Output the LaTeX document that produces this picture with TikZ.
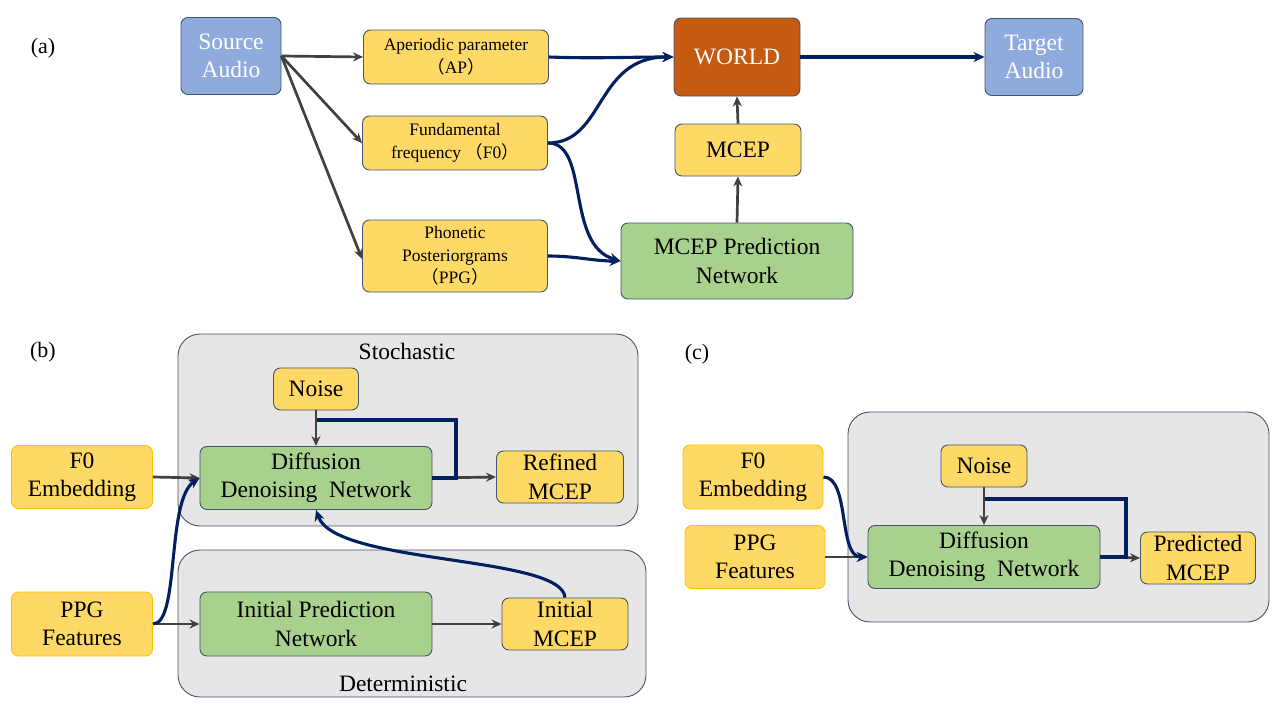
\documentclass[tikz,border=0pt]{standalone}
\usepackage{fontspec}
\setmainfont{Liberation Serif}
\newfontfamily\cjk{Noto Sans CJK SC}
\newcommand{\fwl}{{\cjk （}}
\newcommand{\fwr}{{\cjk ）}}
\usetikzlibrary{arrows.meta}
\definecolor{featfill}{HTML}{FFD966}
\definecolor{featline}{HTML}{FFC000}
\definecolor{netfill}{HTML}{A9D18E}
\definecolor{audiofill}{HTML}{8FAADC}
\definecolor{worldfill}{HTML}{C55A11}
\definecolor{groupfill}{HTML}{E7E6E6}
\definecolor{edgeline}{HTML}{44546A}
\definecolor{navy}{HTML}{002060}
\definecolor{darkgray}{HTML}{404040}

\begin{document}
\begin{tikzpicture}[x=1pt,y=-1pt,>=Stealth]
  \tikzstyle{box}=[draw=edgeline,line width=0.9pt,rounded corners=7pt,align=center,inner sep=0pt,font=\fontsize{23.5}{28.5}\selectfont]
  \tikzstyle{feat}=[box,fill=featfill,minimum width=185pt,minimum height=54pt,font=\fontsize{17.5}{22.5}\selectfont]
  \tikzstyle{inp}=[box,draw=featline,fill=featfill,minimum width=141pt,minimum height=63pt]
  \tikzstyle{outp}=[box,fill=featfill,minimum height=52pt]
  \tikzstyle{net}=[box,fill=netfill,minimum width=232pt,minimum height=63pt]
  \tikzstyle{audio}=[box,draw=edgeline,fill=audiofill,text=white,minimum width=100pt,minimum height=77pt]
  \tikzstyle{group}=[draw=edgeline,line width=0.9pt,fill=groupfill,rounded corners=22pt]
  \tikzstyle{garrow}=[->,darkgray,line width=2.7pt,arrows={-Stealth[length=10pt,width=9pt]}]
  \tikzstyle{narrow}=[->,navy,line width=3.1pt,arrows={-Stealth[length=11pt,width=10pt]}]
  \tikzstyle{nline}=[navy,line width=3.1pt]
  \tikzstyle{tag}=[font=\fontsize{22}{26}\selectfont]
  \useasboundingbox (0,0) rectangle (1280,720);

  % (a) conversion pipeline
  \node[tag] (taga) at (43,48) {(a)};
  \node[audio] (src) at (231,56) {Source\\Audio};
  \node[feat] (ap) at (456,57) {Aperiodic parameter\\\fwl AP\fwr};
  \node[feat] (f0) at (455,143) {Fundamental\\frequency \fwl F0\fwr};
  \node[feat,minimum height=72pt] (ppg) at (455,256) {Phonetic\\Posteriorgrams\\\fwl PPG\fwr};
  \node[box,fill=worldfill,text=white,minimum width=126pt,minimum height=78pt] (world) at (737,57) {WORLD};
  \node[audio,minimum width=98pt] (tgt) at (1034,57) {Target\\Audio};
  \node[outp,minimum width=126pt] (mcep) at (738,150) {MCEP};
  \node[net,minimum height=76pt] (pred) at (737,261) {MCEP Prediction\\Network};

  \draw[garrow] (src.east) -- (ap.west);
  \draw[garrow] (src.east) -- (f0.west);
  \draw[garrow] (src.east) -- ([yshift=-3pt]ppg.west);
  \draw[narrow] (ap.east) to[out=-2,in=180] (world.west);
  \draw[narrow] (f0.east) .. controls (605,143) and (595,57) .. (world.west);
  \draw[narrow] (f0.east) .. controls (590,143) and (565,245) .. (pred.west);
  \draw[narrow] (ppg.east) to[out=0,in=180] (pred.west);
  \draw[narrow] (world.east) -- (tgt.west);
  \draw[garrow] (pred.north) -- (mcep.south);
  \draw[garrow] (mcep.north) -- (world.south);

  % (b) two-stage model
  \node[tag] (tagb) at (43,352) {(b)};
  \draw[group] (178,334) rectangle (638,526);
  \draw[group] (178,550) rectangle (646,697);
  \node[box,draw=none,fill=none] (stoch) at (407,351) {Stochastic};
  \node[box,draw=none,fill=none] (determ) at (403,684) {Deterministic};
  \node[outp,minimum width=85pt,minimum height=42pt] (noiseb) at (316,389) {Noise};
  \node[net] (diffb) at (316,478) {Diffusion\\Denoising~ Network};
  \node[outp,minimum width=127pt] (refined) at (560,477) {Refined\\MCEP};
  \node[inp] (f0b) at (82,477) {F0\\Embedding};
  \node[inp,minimum height=64pt] (ppgb) at (82,624) {PPG\\Features};
  \node[net,minimum height=64pt] (initp) at (316,624) {Initial Prediction\\Network};
  \node[outp,minimum width=126pt] (initm) at (565,624) {Initial\\MCEP};
  \coordinate (loopb) at (456,420);

  \draw[garrow] (f0b.east) -- (diffb.west);
  \draw[garrow] (ppgb.east) -- (initp.west);
  \draw[garrow] (initp.east) -- (initm.west);
  \draw[garrow] (diffb.east) -- (refined.west);
  \draw[nline] (diffb.east) -| (loopb) -- (loopb -| noiseb.south);
  \draw[garrow] (noiseb.south) -- (diffb.north);
  \draw[narrow] (ppgb.east) .. controls (180,624) and (166,500) .. (diffb.west);
  \draw[narrow] (initm.north) .. controls (562,555) and (335,565) .. (diffb.south);

  % (c) diffusion only
  \node[tag] (tagc) at (697,354) {(c)};
  \draw[group] (848,412) rectangle (1269,622);
  \node[outp,minimum width=86pt,minimum height=42pt] (noisec) at (984,466) {Noise};
  \node[net] (diffc) at (984,557) {Diffusion\\Denoising~ Network};
  \node[outp,minimum width=115pt] (predc) at (1198,558) {Predicted\\MCEP};
  \node[inp,minimum width=140pt,minimum height=64pt] (f0c) at (753,477) {F0\\Embedding};
  \node[inp,minimum width=140pt] (ppgc) at (755,557) {PPG\\Features};
  \coordinate (loopc) at (1126,499);

  \draw[garrow] (ppgc.east) -- (diffc.west);
  \draw[garrow] (diffc.east) -- (predc.west);
  \draw[nline] (diffc.east) -| (loopc) -- (loopc -| noisec.south);
  \draw[garrow] (noisec.south) -- (diffc.north);
  \draw[narrow] (f0c.east) .. controls (850,477) and (838,557) .. (diffc.west);
\end{tikzpicture}
\end{document}
